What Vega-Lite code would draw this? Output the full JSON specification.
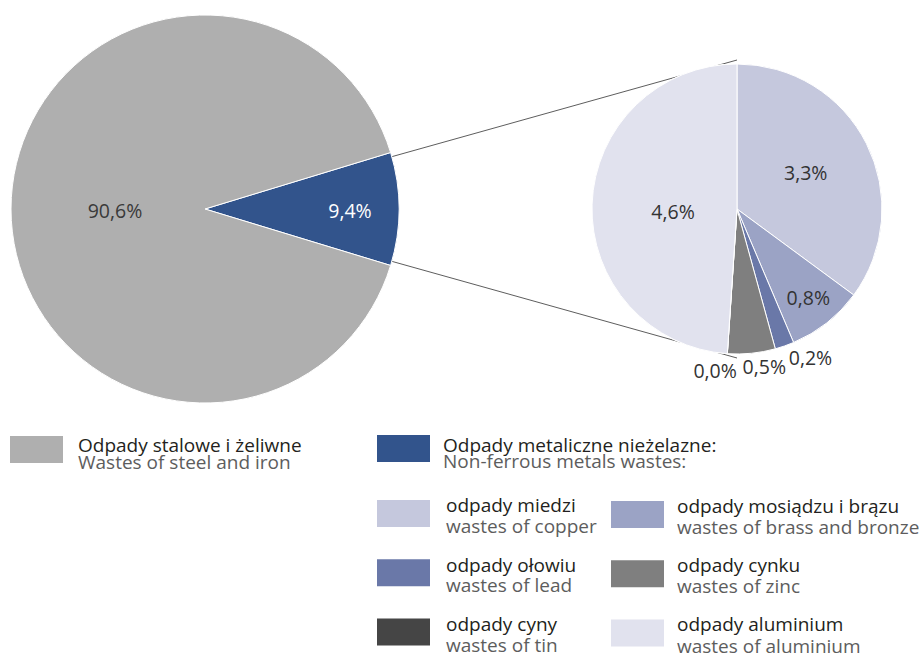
{
  "$schema": "https://vega.github.io/schema/vega-lite/v6.json",
  "width": 919,
  "height": 656,
  "padding": 0,
  "autosize": {"type": "none"},
  "background": "white",
  "config": {
    "view": {"stroke": null},
    "font": "Open Sans",
    "locale": {"number": {"decimal": ",", "thousands": " ", "grouping": [3], "currency": ["", " zł"]}},
    "legend": {
      "orient": "none", "direction": "vertical", "columns": 1, "title": null,
      "symbolType": "M-1,-0.509H1V0.509H-1Z", "symbolSize": 2809, "symbolStrokeWidth": 0, "symbolOffset": 0,
      "labelFont": "Open Sans", "labelFontSize": 19, "labelLimit": 500, "labelBaseline": "alphabetic", "rowPadding": 19.2
    }
  },
  "layer": [
    {
      "data": {"values": [
        {"edge": "upper", "node": "all", "anchor": "center"},
        {"edge": "upper", "node": "nonferrous", "anchor": "top"},
        {"edge": "lower", "node": "all", "anchor": "center"},
        {"edge": "lower", "node": "nonferrous", "anchor": "bottom"}
      ]},
      "mark": {"type": "line", "color": "#333333", "strokeWidth": 0.8},
      "encoding": {
        "x": {"field": "node", "type": "nominal", "scale": {"type": "point", "domain": ["all", "nonferrous"], "range": [205, 737], "padding": 0}, "axis": null},
        "y": {"field": "anchor", "type": "nominal", "scale": {"type": "point", "domain": ["top", "center", "bottom"], "range": [60, 358], "padding": 0}, "axis": null},
        "detail": {"field": "edge", "type": "nominal"}
      }
    },
    {
      "data": {"values": [
        {"group": "Odpady metaliczne nieżelazne", "group_en": "Non-ferrous metals wastes", "share": 0.094, "rank": 1},
        {"group": "Odpady stalowe i żeliwne", "group_en": "Wastes of steel and iron", "share": 0.906, "rank": 2}
      ]},
      "encoding": {
        "x": {"datum": "all", "type": "nominal"},
        "y": {"datum": "center", "type": "nominal"},
        "theta": {"field": "share", "type": "quantitative", "stack": true, "scale": {"range": [1.27549, 7.55868]}},
        "order": {"field": "rank", "type": "quantitative"}
      },
      "layer": [
        {
          "mark": {"type": "arc", "outerRadius": 194, "strokeWidth": 1},
          "encoding": {
            "color": {
              "field": "group", "type": "nominal",
              "scale": {"domain": ["Odpady stalowe i żeliwne", "Odpady metaliczne nieżelazne"], "range": ["#afafaf", "#32548c"]},
              "legend": {"values": ["Odpady stalowe i żeliwne"], "legendX": 10, "legendY": 423, "labelOffset": 15, "labelColor": "#231f20",
                "encode": {"labels": {"update": {"dy": {"value": 2.2}}}}}
            },
            "stroke": {
              "field": "group_en", "type": "nominal",
              "scale": {"domain": ["Wastes of steel and iron", "Non-ferrous metals wastes"], "range": ["#ffffff", "#ffffff"]},
              "legend": {"values": ["Wastes of steel and iron"], "legendX": 10, "legendY": 442.5, "labelOffset": 15, "labelColor": "#5d5d5d", "symbolOpacity": 0,
                "encode": {"labels": {"update": {"dy": {"value": 2.2}}}, "symbols": {"update": {"opacity": {"value": 0}}}}}
            }
          }
        },
        {
          "mark": {"type": "arc", "outerRadius": 194, "strokeWidth": 1},
          "encoding": {
            "color": {
              "field": "group", "type": "nominal",
              "scale": {"domain": ["Odpady stalowe i żeliwne", "Odpady metaliczne nieżelazne"], "range": ["#afafaf", "#32548c"]},
              "legend": {"values": ["Odpady metaliczne nieżelazne"], "legendX": 377, "legendY": 422, "labelOffset": 13, "labelColor": "#231f20",
                "labelExpr": "datum.label + ':'",
                "encode": {"labels": {"update": {"dy": {"value": 3.2}}}}}
            },
            "stroke": {
              "field": "group_en", "type": "nominal",
              "scale": {"domain": ["Wastes of steel and iron", "Non-ferrous metals wastes"], "range": ["#ffffff", "#ffffff"]},
              "legend": {"values": ["Non-ferrous metals wastes"], "legendX": 377, "legendY": 441.5, "labelOffset": 13, "labelColor": "#5d5d5d", "symbolOpacity": 0,
                "labelExpr": "datum.label + ':'",
                "encode": {"labels": {"update": {"dy": {"value": 3.2}}}, "symbols": {"update": {"opacity": {"value": 0}}}}}
            }
          }
        },
        {
          "mark": {"type": "text", "font": "Open Sans", "fontSize": 19.5,
            "radius": {"expr": "datum.group == 'Odpady stalowe i żeliwne' ? 90 : 145"},
            "fill": {"expr": "datum.group == 'Odpady stalowe i żeliwne' ? '#3a3a3a' : '#ffffff'"},
            "dy": 3},
          "encoding": {
            "detail": {"field": "group", "type": "nominal"},
            "text": {"field": "share", "type": "quantitative", "format": ".1%"}
          }
        }
      ],
      "resolve": {"scale": {"color": "independent", "stroke": "independent"}}
    },
    {
      "data": {"values": [
        {"metal": "odpady miedzi", "metal_en": "wastes of copper", "share": 0.033, "rank": 1},
        {"metal": "odpady mosiądzu i brązu", "metal_en": "wastes of brass and bronze", "share": 0.008, "rank": 2},
        {"metal": "odpady ołowiu", "metal_en": "wastes of lead", "share": 0.002, "rank": 3},
        {"metal": "odpady cynku", "metal_en": "wastes of zinc", "share": 0.005, "rank": 4},
        {"metal": "odpady cyny", "metal_en": "wastes of tin", "share": 0.0, "rank": 5},
        {"metal": "odpady aluminium", "metal_en": "wastes of aluminium", "share": 0.046, "rank": 6}
      ]},
      "encoding": {
        "x": {"datum": "nonferrous", "type": "nominal"},
        "y": {"datum": "center", "type": "nominal"},
        "theta": {"field": "share", "type": "quantitative", "stack": true},
        "order": {"field": "rank", "type": "quantitative"}
      },
      "layer": [
        {
          "mark": {"type": "arc", "outerRadius": 145, "strokeWidth": 1},
          "encoding": {
            "color": {
              "field": "metal", "type": "nominal",
              "scale": {"domain": ["odpady miedzi", "odpady mosiądzu i brązu", "odpady ołowiu", "odpady cynku", "odpady cyny", "odpady aluminium"],
                        "range": ["#c5c8dd", "#9ba3c5", "#6a78a8", "#7f7f7f", "#454545", "#e1e2ee"]},
              "legend": {"values": ["odpady miedzi", "odpady ołowiu", "odpady cyny"], "legendX": 377, "legendY": 487, "labelOffset": 16, "labelColor": "#231f20",
                "encode": {"labels": {"update": {"dy": {"value": -1.2}}}}}
            },
            "stroke": {
              "field": "metal_en", "type": "nominal",
              "scale": {"domain": ["wastes of copper", "wastes of brass and bronze", "wastes of lead", "wastes of zinc", "wastes of tin", "wastes of aluminium"],
                        "range": ["#ffffff", "#ffffff", "#ffffff", "#ffffff", "#ffffff", "#ffffff"]},
              "legend": {"values": ["wastes of copper", "wastes of lead", "wastes of tin"], "legendX": 377, "legendY": 506.6, "labelOffset": 16, "labelColor": "#5d5d5d", "symbolOpacity": 0,
                "encode": {"labels": {"update": {"dy": {"value": -1.2}}}, "symbols": {"update": {"opacity": {"value": 0}}}}}
            }
          }
        },
        {
          "mark": {"type": "arc", "outerRadius": 145, "strokeWidth": 1},
          "encoding": {
            "color": {
              "field": "metal", "type": "nominal",
              "scale": {"domain": ["odpady miedzi", "odpady mosiądzu i brązu", "odpady ołowiu", "odpady cynku", "odpady cyny", "odpady aluminium"],
                        "range": ["#c5c8dd", "#9ba3c5", "#6a78a8", "#7f7f7f", "#454545", "#e1e2ee"]},
              "legend": {"values": ["odpady mosiądzu i brązu", "odpady cynku", "odpady aluminium"], "legendX": 611, "legendY": 488, "labelOffset": 13, "labelColor": "#231f20",
                "encode": {"labels": {"update": {"dy": {"value": -1.5}}}}}
            },
            "stroke": {
              "field": "metal_en", "type": "nominal",
              "scale": {"domain": ["wastes of copper", "wastes of brass and bronze", "wastes of lead", "wastes of zinc", "wastes of tin", "wastes of aluminium"],
                        "range": ["#ffffff", "#ffffff", "#ffffff", "#ffffff", "#ffffff", "#ffffff"]},
              "legend": {"values": ["wastes of brass and bronze", "wastes of zinc", "wastes of aluminium"], "legendX": 611, "legendY": 507.6, "labelOffset": 13, "labelColor": "#5d5d5d", "symbolOpacity": 0,
                "encode": {"labels": {"update": {"dy": {"value": -1.5}}}, "symbols": {"update": {"opacity": {"value": 0}}}}}
            }
          }
        },
        {
          "mark": {"type": "text", "font": "Open Sans", "fontSize": 19.5, "fill": "#333333",
            "radius": {"expr": "datum.metal == 'odpady miedzi' ? 77 : datum.metal == 'odpady aluminium' ? 64 : datum.metal == 'odpady mosiądzu i brązu' ? 115 : 163"},
            "dx": {"expr": "datum.metal == 'odpady ołowiu' ? 20 : datum.metal == 'odpady cynku' ? 11 : datum.metal == 'odpady cyny' ? -11 : 0"},
            "dy": {"expr": "datum.metal == 'odpady ołowiu' ? -4 : datum.metal == 'odpady cynku' ? -3 : datum.metal == 'odpady aluminium' ? 6 : 0"}},
          "encoding": {
            "detail": {"field": "metal", "type": "nominal"},
            "text": {"field": "share", "type": "quantitative", "format": ".1%"}
          }
        }
      ],
      "resolve": {"scale": {"color": "independent", "stroke": "independent"}}
    }
  ],
  "resolve": {"scale": {"theta": "independent", "color": "independent", "stroke": "independent"}}
}
